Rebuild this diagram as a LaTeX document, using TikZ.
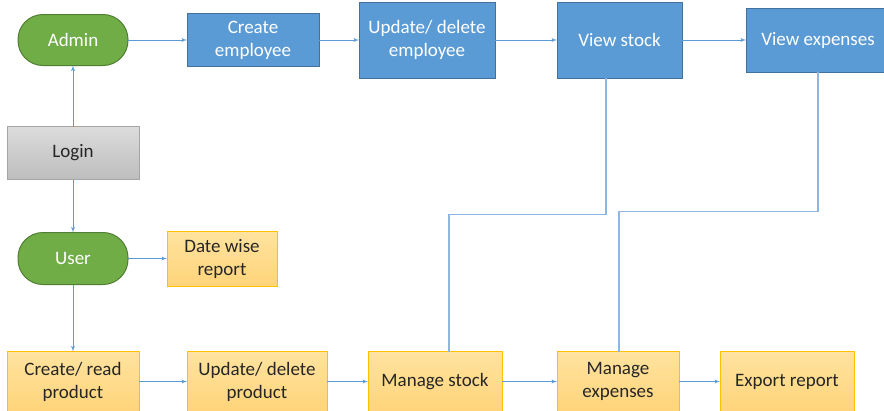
\documentclass[tikz,border=0pt]{standalone}
\usepackage{fontspec}
\setmainfont{Carlito}
\usetikzlibrary{positioning, arrows}

\definecolor{bluefill}{HTML}{5B9BD5}
\definecolor{blueline}{HTML}{41719C}
\definecolor{greenfill}{HTML}{70AD47}
\definecolor{greenline}{HTML}{507E32}
\definecolor{goldtop}{HTML}{FFE39F}
\definecolor{goldbot}{HTML}{FFD47A}
\definecolor{goldline}{HTML}{FFC000}
\definecolor{greytop}{HTML}{DCDCDC}
\definecolor{greybot}{HTML}{BDBDBD}
\definecolor{greyline}{HTML}{A5A5A5}
\definecolor{arrowc}{HTML}{5B9BD5}
\definecolor{feedc}{HTML}{8DB7E2}

\begin{document}
\begin{tikzpicture}[x=1pt, y=1pt, >=latex', line width=0.9pt,
    box/.style={rectangle, draw, line width=1pt, inner sep=2pt, outer sep=0pt, align=center,
        font=\fontsize{19}{23}\selectfont},
    bluebox/.style={box, fill=bluefill, draw=blueline, text=white},
    greenbox/.style={box, rounded corners=25pt, fill=greenfill, draw=greenline, text=white},
    goldbox/.style={box, top color=goldtop, bottom color=goldbot, draw=goldline, text=black!85},
    greybox/.style={box, top color=greytop, bottom color=greybot, draw=greyline, text=black!85},
    flow/.style={color=arrowc},
    feed/.style={draw=feedc, line width=1.4pt}]
    \useasboundingbox (0,0) rectangle (884,-410);

    % admin side
    \node[greenbox, minimum width=110pt, minimum height=51pt] (admin) at (73,-40) {Admin};
    \node[bluebox, minimum width=132pt, minimum height=53pt] (cemp) [right=59pt of admin] {Create\\employee};
    \node[bluebox, minimum width=136pt, minimum height=76pt] (uemp) [right=40pt of cemp] {Update/ delete\\employee};
    \node[bluebox, minimum width=125pt, minimum height=76pt] (vstock) [right=62pt of uemp] {View stock};
    \node[bluebox, minimum width=144pt, minimum height=64pt] (vexp) [right=64pt of vstock] {View expenses};

    \node[greybox, minimum width=132pt, minimum height=53pt] (login) [below=61pt of admin] {Login};

    % user side
    \node[greenbox, minimum width=110pt, minimum height=52pt] (user) [below=53pt of login] {User};
    \node[goldbox, minimum width=110pt, minimum height=55pt] (dwr) [right=39pt of user] {Date wise\\report};
    \node[goldbox, minimum width=132pt, minimum height=60pt] (crp) [below=67pt of user] {Create/ read\\product};
    \node[goldbox, minimum width=140pt, minimum height=60pt] (udp) [right=48pt of crp] {Update/ delete\\product};
    \node[goldbox, minimum width=134pt, minimum height=60pt] (ms) [right=41pt of udp] {Manage stock};
    \node[goldbox, minimum width=122pt, minimum height=60pt] (me) [right=55pt of ms] {Manage\\expenses};
    \node[goldbox, minimum width=134pt, minimum height=60pt] (er) [right=41pt of me] {Export report};

    \path[->, flow]
    (login) edge (admin)
    (login) edge (user)
    (admin) edge (cemp)
    (cemp) edge (uemp)
    (uemp) edge (vstock)
    (vstock) edge (vexp)
    (user) edge (dwr)
    (user) edge (crp)
    (crp) edge (udp)
    (udp) edge (ms)
    (ms) edge (me)
    (me) edge (er);

    \draw[feed] ([xshift=14pt]ms.north) -- ++(0,137) -| ([xshift=-13.5pt]vstock.south);
    \draw[feed] ([xshift=1pt]me.north) -- ++(0,140) -| (vexp.south);
\end{tikzpicture}
\end{document}
